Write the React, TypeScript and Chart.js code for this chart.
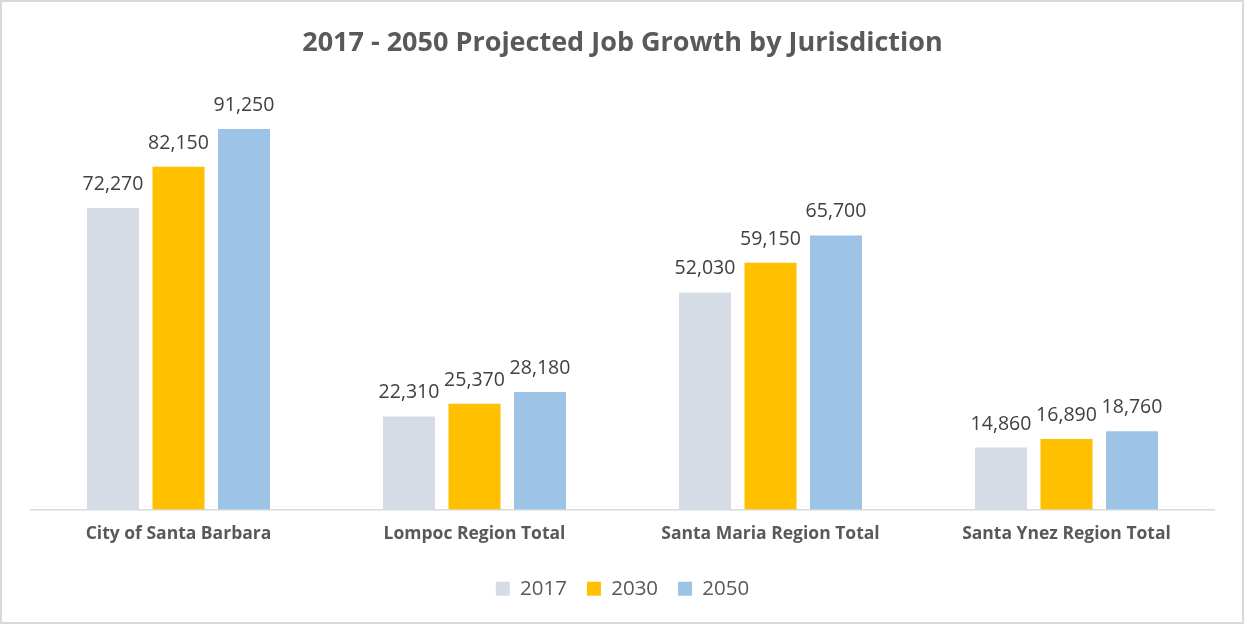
import React, { useEffect, useRef } from "react";
import { Chart, registerables } from "chart.js";

Chart.register(...registerables);

const categories = [
  "City of Santa Barbara",
  "Lompoc Region Total",
  "Santa Maria Region Total",
  "Santa Ynez Region Total",
];
const seriesLabels = ["2017", "2030", "2050"];
const values2017 = [72270, 22310, 52030, 14860];
const values2030 = [82150, 25370, 59150, 16890];
const values2050 = [91250, 28180, 65700, 18760];
const seriesColors = ["#D6DCE5", "#FFC000", "#9DC3E6"];

const FONT = "'Open Sans', 'DejaVu Sans', sans-serif";

const dataLabelPlugin = {
  id: "dataLabels",
  afterDatasetsDraw(chart: any) {
    const ctx = chart.ctx;
    ctx.save();
    ctx.font = `19.5px ${FONT}`;
    ctx.fillStyle = "#404040";
    ctx.textAlign = "center";
    ctx.textBaseline = "alphabetic";
    chart.data.datasets.forEach((ds: any, di: number) => {
      const meta = chart.getDatasetMeta(di);
      meta.data.forEach((bar: any, i: number) => {
        const v = ds.data[i] as number;
        ctx.fillText(v.toLocaleString("en-US"), bar.x, bar.y - 18);
      });
    });
    ctx.restore();
  },
};

export default function App() {
  const ref = useRef<HTMLCanvasElement>(null);
  useEffect(() => {
    if (!ref.current) return;
    const chart = new Chart(ref.current, {
      type: "bar",
      data: {
        labels: categories,
        datasets: [values2017, values2030, values2050].map((d, i) => ({
          label: seriesLabels[i],
          data: d,
          backgroundColor: seriesColors[i],
          borderWidth: 0,
          categoryPercentage: 0.664,
          barPercentage: 0.794,
        })),
      },
      options: {
        animation: false,
        responsive: false,
        maintainAspectRatio: false,
        layout: { padding: { left: 28.5, right: 27.5, top: 0, bottom: 13 } },
        scales: {
          x: {
            grid: { display: false, drawTicks: false },
            border: { display: true, color: "#D9D9D9", width: 1.5 },
            ticks: {
              color: "#595959",
              font: { family: FONT, size: 17.5, weight: "bold" },
              padding: 14,
            },
          },
          y: {
            display: false,
            min: 0,
            max: 100000,
          },
        },
        plugins: {
          title: {
            display: true,
            text: "2017 - 2050 Projected Job Growth by Jurisdiction",
            color: "#595959",
            font: { family: FONT, size: 27, weight: "bold" },
            padding: { top: 25, bottom: 33 },
          },
          legend: {
            position: "bottom",
            labels: {
              color: "#595959",
              font: { family: FONT, size: 20.5 },
              boxWidth: 14,
              boxHeight: 14,
              padding: 20,
            },
          },
          tooltip: { enabled: false },
        },
      },
      plugins: [dataLabelPlugin],
    });
    return () => chart.destroy();
  }, []);
  return (
    <div
      style={{
        position: "absolute",
        left: 0,
        top: 0,
        width: 1244,
        height: 624,
        boxSizing: "border-box",
        border: "2px solid #D9D9D9",
        background: "#fff",
      }}
    >
      <canvas
        ref={ref}
        width={1240}
        height={620}
        style={{ display: "block", width: 1240, height: 620 }}
      />
    </div>
  );
}
